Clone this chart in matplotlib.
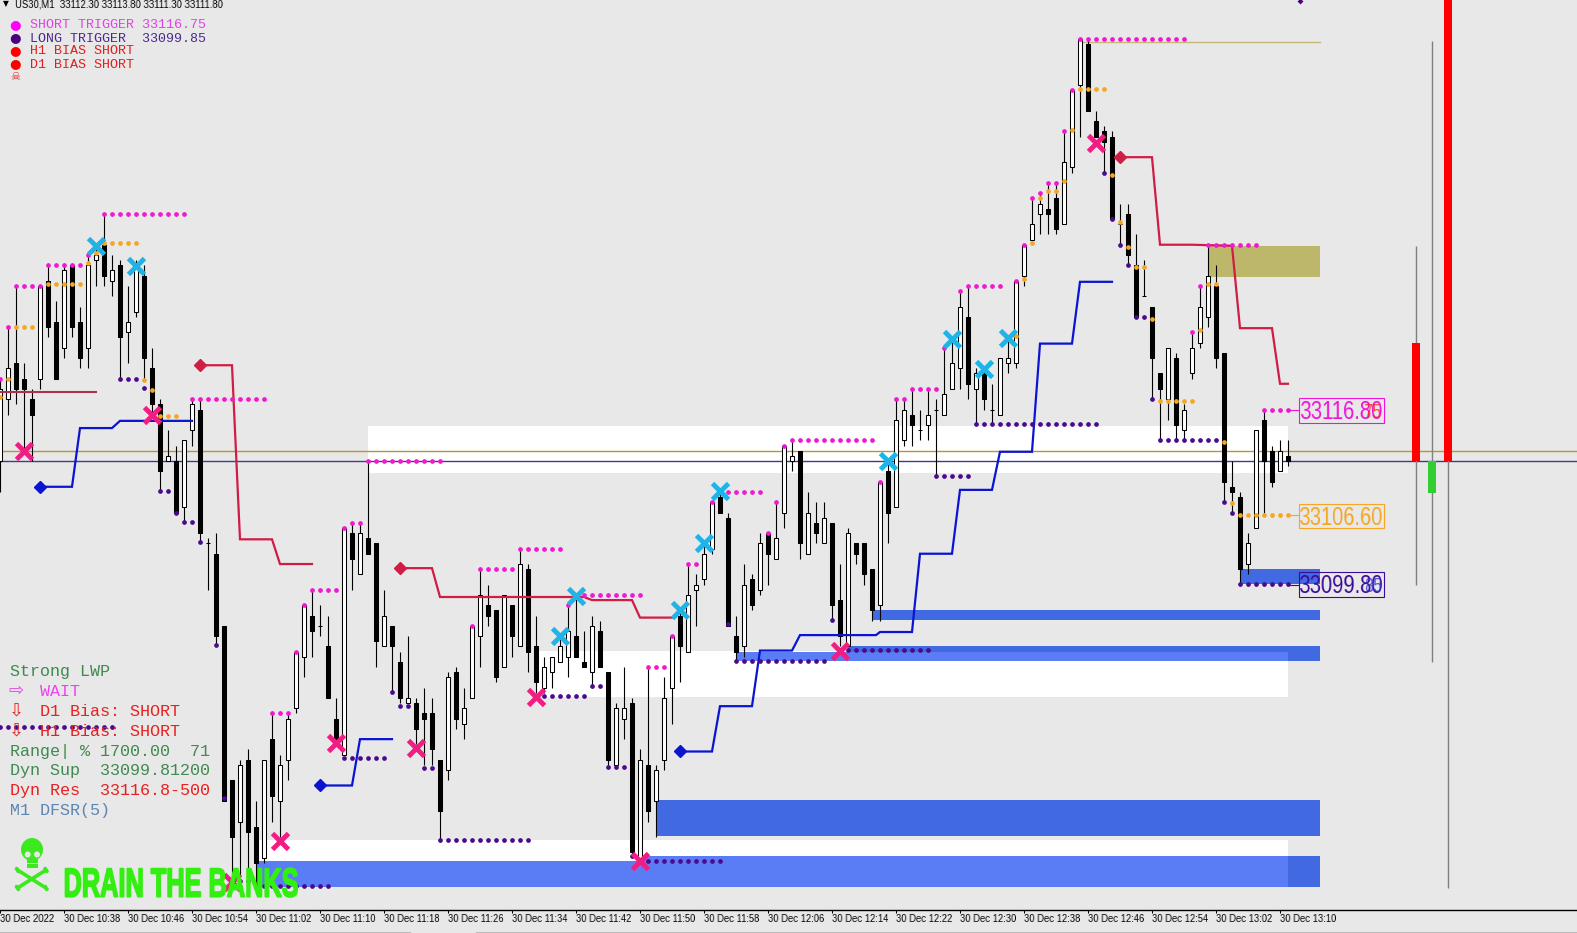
import numpy as np
from matplotlib import pyplot as plt
from matplotlib.colors import to_rgb
from matplotlib.lines import Line2D
from matplotlib.patches import Rectangle, Circle, Ellipse
from matplotlib.transforms import Affine2D
import matplotlib.patheffects as pe

BASE = 33000  # all prices below are written as offset from this

opens = [111.8,117.8,121.3,119.8,117.8,119.8,129.3,125.3,122.8,130.8,
         125.3,122.8,131.3,132.8,129.3,130.8,124.3,126.3,129.8,120.8,
         117.3,111.8,111.8,107.3,114.8,116.8,103.8,102.8,95.8,80.8,
         76.8,82.8,76.3,73.3,84.8,78.8,82.8,87.8,92.8,96.8,
         95.8,93.8,86.8,83.3,104.8,100.8,104.3,103.8,93.8,95.8,
         92.3,88.3,88.3,87.3,87.3,82.8,81.8,91.3,86.3,88.8,
         94.8,97.8,97.3,91.8,97.8,93.8,101.3,93.8,89.8,91.3,
         92.3,92.8,94.8,92.3,91.3,95.3,91.3,82.3,86.8,88.3,
         73.3,82.3,78.8,82.8,89.8,96.8,93.3,99.3,100.3,103.3,
         108.3,106.3,94.8,93.8,100.3,99.3,104.8,102.3,106.8,111.8,
         112.8,102.8,105.8,103.8,105.8,98.3,93.8,103.8,103.8,101.3,
         97.8,110.8,107.3,113.8,116.3,114.8,115.3,116.8,116.3,118.8,
         120.8,125.8,118.8,120.3,116.8,116.3,121.3,121.3,129.8,133.3,
         135.8,136.3,137.3,134.8,140.3,148.3,152.3,144.8,143.8,143.3,
         134.8,135.8,130.8,127.8,126.8,120.3,117.8,121.8,114.8,120.3,
         123.3,125.8,128.8,122.3,109.3,108.3,101.8,105.3,115.8,112.8,110.8,112.3]
highs = [119.8,124.8,128.8,121.3,118.8,128.8,130.8,127.3,130.8,130.8,
         126.8,131.8,132.8,135.8,131.8,131.3,128.8,131.3,130.8,122.8,
         117.8,114.8,113.3,113.8,117.8,117.8,104.3,104.8,95.8,80.8,
         82.8,83.8,78.8,82.8,87.3,83.3,87.3,93.3,97.8,99.3,
         97.8,96.8,88.8,105.3,105.8,105.8,111.8,103.8,99.3,95.8,
         93.3,94.8,88.8,89.8,88.8,82.8,91.3,91.8,89.8,95.8,
         101.3,99.8,97.3,98.8,97.8,103.3,101.8,96.8,92.8,92.8,
         94.8,97.8,98.8,95.3,96.8,96.3,91.3,88.3,91.8,88.8,
         83.8,91.8,82.3,90.8,94.8,97.3,101.8,100.8,103.8,107.8,
         108.8,106.8,96.8,101.8,100.8,104.8,104.8,107.8,113.3,113.8,
         112.8,108.8,107.8,107.8,105.8,101.8,105.3,103.8,103.8,101.3,
         109.8,111.8,117.8,117.8,118.8,116.8,118.8,117.8,122.8,123.8,
         128.3,128.8,120.8,120.8,119.3,121.8,123.8,129.3,132.8,137.3,
         137.8,138.8,138.8,143.8,147.8,152.8,152.8,145.8,144.3,143.8,
         136.8,136.8,133.8,131.3,126.8,120.3,122.8,122.3,117.3,124.3,
         128.8,132.8,130.8,122.3,111.8,108.8,104.8,114.8,116.8,113.3,113.8,113.8]
lows = [108.8,116.3,117.3,112.8,111.8,118.8,123.8,119.8,121.8,123.8,
        120.8,120.8,128.8,128.8,127.8,119.8,121.3,125.8,119.8,116.3,
        108.8,111.8,106.8,105.8,113.3,103.8,99.3,93.8,78.8,70.8,
        70.8,70.8,70.3,72.8,76.8,75.3,80.8,87.3,90.8,92.8,
        94.8,88.8,84.3,83.3,99.3,100.8,102.8,91.8,93.8,89.3,
        88.3,88.3,84.3,82.3,82.3,74.8,80.8,85.8,84.8,88.8,
        91.8,95.8,90.3,91.8,92.8,93.8,91.3,89.3,89.3,89.8,
        92.3,90.8,92.8,91.8,89.8,91.8,82.3,82.3,84.8,73.3,
        72.8,76.8,75.3,81.8,86.3,90.3,93.3,95.8,99.8,102.8,
        106.8,95.8,92.3,92.8,97.3,98.8,99.8,102.3,105.3,110.8,
        102.3,102.8,103.8,103.8,96.3,93.8,93.8,101.8,99.8,96.3,
        96.3,103.8,107.3,113.3,113.3,113.8,113.8,110.3,116.3,118.8,
        118.8,117.8,115.3,116.8,115.3,116.3,120.3,120.8,128.8,133.3,
        133.8,133.8,133.8,134.8,139.8,143.3,145.8,143.3,139.8,135.3,
        132.8,130.8,125.8,127.8,117.8,113.8,115.8,113.8,113.8,119.8,
        122.8,124.8,120.8,107.8,106.8,99.8,100.8,105.3,106.8,109.3,110.8,111.3]
closes = [118.8,120.8,118.8,118.8,116.3,128.8,124.8,119.8,130.3,124.8,
          121.8,130.8,131.8,129.8,130.3,123.8,125.3,130.8,121.8,117.3,
          110.8,112.3,106.8,113.8,117.3,104.8,103.8,94.8,78.8,75.3,
          82.3,75.8,72.8,82.8,79.3,82.3,86.8,93.3,97.8,95.3,
          95.8,88.8,84.3,105.3,102.3,104.8,102.8,94.3,96.8,93.8,
          88.8,88.8,85.8,86.8,83.8,77.8,90.8,86.8,87.8,95.8,
          98.8,96.8,90.8,98.8,94.8,101.8,93.3,90.3,91.8,92.8,
          93.8,95.3,92.8,91.8,95.8,91.8,82.8,87.8,87.8,73.8,
          82.8,77.8,81.8,88.8,94.8,93.8,98.8,99.8,102.8,107.8,
          106.8,95.8,93.3,99.8,97.8,103.8,102.8,104.3,113.3,112.3,
          103.8,106.8,104.8,106.3,97.8,94.8,104.8,102.8,100.8,97.3,
          109.8,106.8,115.8,116.8,115.3,114.8,116.3,116.8,118.3,121.3,
          126.8,119.3,120.3,117.8,116.8,121.8,121.8,129.3,132.8,134.8,
          136.8,135.8,134.3,140.8,147.8,152.8,145.8,143.3,142.8,135.3,
          134.8,131.8,125.8,127.8,121.8,118.8,122.8,115.3,116.8,122.8,
          126.8,129.8,121.8,109.8,108.8,101.3,103.8,114.8,111.8,109.8,112.8,111.8]

# dots: (first bar, last bar, price)
magenta_runs = [(0,0,119.8),(1,1,124.8),(2,5,128.8),(6,10,130.8),(11,11,131.8),(13,23,135.8),
                (24,33,117.8),(34,36,87.3),(37,37,93.3),(38,38,97.8),(39,42,99.3),(43,43,105.3),
                (44,45,105.8),(46,55,111.8),(59,59,95.8),(60,64,101.3),(65,70,103.3),(71,71,97.8),
                (72,80,98.8),(81,83,91.8),(84,84,94.8),(86,87,101.8),(89,89,107.8),(90,95,108.8),
                (96,96,104.8),(97,97,107.8),(98,98,113.3),(99,109,113.8),(110,110,109.8),
                (112,113,117.8),(114,117,118.8),(118,118,122.8),(120,120,128.3),(121,125,128.8),
                (127,127,129.3),(128,128,132.8),(129,129,137.3),(130,130,137.8),(131,132,138.8),
                (133,133,143.8),(134,134,147.8),(135,148,152.8),(149,149,124.3),(150,150,128.8),
                (151,157,132.8),(158,161,116.8)]
orange_runs = [(0,0,118.0),(1,1,119.8),(2,4,124.8),(6,10,129.0),(11,11,131.0),(12,12,132.0),
               (13,17,133.0),(18,18,119.7),(19,19,118.7),(20,22,116.2),(127,127,123.9),
               (128,128,129.5),(129,129,133.0),(130,130,137.3),(131,132,138.0),(133,133,139.0),
               (134,134,143.9),(135,138,147.9),(139,139,139.6),(140,140,135.0),(141,141,132.6),
               (142,143,130.6),(144,144,125.6),(145,149,117.6),(150,150,124.5),(151,152,129.0),
               (153,153,113.6),(154,154,107.7),(155,161,106.6)]
indigo_runs = [(0,14,86.0),(15,17,119.8),(18,18,118.9),(20,21,108.9),(22,22,106.8),(23,24,105.9),
               (25,25,103.9),(27,27,93.9),(28,28,79.1),(30,31,71.0),(32,41,70.5),(43,48,83.0),
               (49,49,89.4),(50,51,88.0),(53,54,82.0),(55,66,75.0),(68,73,89.0),(74,75,90.0),
               (76,78,82.1),(79,79,73.5),(81,90,73.0),(91,91,96.0),(92,103,92.4),(104,104,96.4),
               (106,116,93.5),(117,121,110.3),(122,137,115.4),(138,138,139.8),(139,139,135.3),
               (140,140,132.8),(141,141,130.8),(142,143,125.8),(144,144,117.8),(145,152,113.8),
               (153,153,107.8),(154,154,106.8),(155,161,99.9)]

pink_bars = [3,19,42,35,29,52,67,80,105,137]
pink_prices = [112.8,116.3,84.4,74.9,70.9,83.9,88.9,73.0,93.4,142.7]
cyan_bars = [12,17,70,72,85,88,90,111,119,123,126]
cyan_prices = [132.7,130.7,94.8,98.7,97.3,103.8,108.9,111.8,123.6,120.7,123.7]

# step lines, first point carries the diamond
red_lines = [([25,29,30,34,35,39],[121.1,121.1,104.2,104.2,101.8,101.8]),
             ([50,54,55,73,74,79,80,84],[101.4,101.4,98.6,98.6,98.3,98.3,96.6,96.6]),
             ([140,144,145,149,154,155,159,160,161],[141.3,141.3,132.8,132.8,132.7,124.7,124.7,119.3,119.3])]
blue_lines = [([5,9,10,14,15,24],[109.3,109.3,115.0,115.0,115.7,115.7]),
              ([40,44,45,49],[80.3,80.3,84.8,84.8]),
              ([85,89,90,94,95,99,100,109.5,110,114,115,119,120,124,125,129,130,134,135,139],
               [83.6,83.6,88.0,88.0,93.4,93.4,94.9,94.9,95.2,95.2,102.8,102.8,109.0,109.0,
                112.7,112.7,123.2,123.2,129.2,129.2])]

# zones: first bar, last bar, top, bottom, colour name
DARK = '#4169e1'
LIGHT = '#5a7df5'
KHAKI = '#bdb76b'
zones = [(46,161,115.2,110.6,'white'),(67,161,93.4,88.9,'white'),(32,161,75.0,70.4,'white'),
         (32,161,73.0,70.4,LIGHT),(80,161,73.5,70.4,LIGHT),(161,165,73.5,70.4,DARK),
         (82,165,78.9,75.4,DARK),(109,165,97.3,96.4,DARK),(106,165,93.8,92.4,DARK),
         (92,161,93.3,92.4,LIGHT),(155,165,101.3,99.9,DARK),(151,165,132.7,129.7,KHAKI)]

bid_price = 111.8
ask_price = 112.8
top_level = 152.5
old_level = 118.5

# higher timeframe candles on the right: bar, open, high, low, close
htf_bars = [177,179,181]
htf_open = [123.3,111.8,157.5]
htf_high = [132.7,152.6,157.5]
htf_low = [99.8,92.3,70.3]
htf_close = [111.8,108.7,111.8]
htf_colour = ['#ff0000','#32cd32','#ff0000']

# price tags: text, overlay, price, colour, overlay colour, box top, box bottom, text level
tags = [('33116.80','75',116.8,'#f012d8','#ff2020',117.9,115.5,116.55),
        ('33106.60','',106.6,'#f5a623','#f5a623',107.6,105.3,106.25),
        ('33099.80','85',99.8,'#3a0a9a','#3030d0',101.0,98.6,99.65)]

tick_labels = ['30 Dec 2022','30 Dec 10:38','30 Dec 10:46','30 Dec 10:54','30 Dec 11:02','30 Dec 11:10',
               '30 Dec 11:18','30 Dec 11:26','30 Dec 11:34','30 Dec 11:42','30 Dec 11:50','30 Dec 11:58',
               '30 Dec 12:06','30 Dec 12:14','30 Dec 12:22','30 Dec 12:30','30 Dec 12:38','30 Dec 12:46',
               '30 Dec 12:54','30 Dec 13:02','30 Dec 13:10']

legend_lines = [('SHORT TRIGGER 33116.75','#e040e8','#ff00ff',25.5),
                ('LONG TRIGGER  33099.85','#4b2a8c','#4b0082',38.5),
                ('H1 BIAS SHORT','#e02020','#ff0000',51.5),
                ('D1 BIAS SHORT','#e02020','#ff0000',64.5)]
info_lines = [('Strong LWP','#3f8a4f',671.5),('   WAIT','#f040f0',691.5),
              ('   D1 Bias: SHORT','#e82020',711.5),('   H1 Bias: SHORT','#e82020',731.5),
              ('Range| % 1700.00  71','#3f8a4f',751.5),('Dyn Sup  33099.81200','#3f8a4f',770.5),
              ('Dyn Res  33116.8-500','#e82020',790.5),('M1 DFSR(5)','#5b85b5',810.5)]
info_arrows = [('\u21e8','#f040f0',691),('\u21e9','#e82020',711),('\u21e9','#e82020',731)]

W, H = 1577, 933
BG = '#e8e8e8'
MONO = ['Liberation Mono', 'DejaVu Sans Mono']
SANS = ['Liberation Sans', 'DejaVu Sans']
LIME = '#3ce81e'

fig = plt.figure(figsize=(W / 100, H / 100), dpi=100, facecolor=BG)
ax = fig.add_axes([0, (H - 909.5) / H, 1, 909.5 / H], facecolor=BG)
ax.set_xlim(0, W / 8)
ax.set_ylim(BASE + 68.26, BASE + 156.56)


def squeeze(fx, fy, colour, anchor='left'):
    # no condensed font here: resample the drawn text so it gets the narrow look
    rgb = to_rgb(colour)

    def run(img, dpi):
        h, w = img.shape[:2]
        w2, h2 = max(1, round(w * fx)), max(1, round(h * fy))
        ys = np.linspace(0, h - 1, h2)
        xs = np.linspace(0, w - 1, w2)
        y0 = ys.astype(int)
        y1 = np.minimum(y0 + 1, h - 1)
        x0 = xs.astype(int)
        x1 = np.minimum(x0 + 1, w - 1)
        a = img[..., 3]
        a = a[y0] * (1 - ys + y0)[:, None] + a[y1] * (ys - y0)[:, None]
        a = a[:, x0] * (1 - xs + x0) + a[:, x1] * (xs - x0)
        out = np.zeros((h2, w2, 4))
        out[..., 0], out[..., 1], out[..., 2] = rgb
        out[..., 3] = a
        ox = {'left': 0, 'center': (w - w2) // 2, 'right': w - w2}[anchor]
        return out, ox, (h - h2) // 2
    return run


def put(x, y, s, **kw):
    # text placed in picture pixels
    return fig.text(x / W, 1 - y / H, s, va='center', ha=kw.pop('ha', 'left'), zorder=20, **kw)


for first, last, top, bottom, colour in zones:
    ax.add_patch(Rectangle((first, BASE + bottom), last - first, top - bottom, fc=colour, ec='none', zorder=1))

ax.axhline(BASE + ask_price, color='#b8962e', lw=1, zorder=2)
ax.axhline(BASE + bid_price, color='#3c3c8c', lw=1, zorder=2)
ax.plot([135, 165], [BASE + top_level] * 2, color='#c4b87a', lw=1, zorder=2)

# right hand candles
for bar, o, hi, lo, c, colour in zip(htf_bars, htf_open, htf_high, htf_low, htf_close, htf_colour):
    ax.vlines(bar, BASE + lo, BASE + hi, color='#808080', lw=1, zorder=2)
    ax.bar(bar, abs(o - c), bottom=BASE + min(o, c), width=1, color=colour, zorder=3)

# candles
o = np.array(opens) + BASE
hi = np.array(highs) + BASE
lo = np.array(lows) + BASE
c = np.array(closes) + BASE
bars = np.arange(len(o))
up = c > o
ax.vlines(bars, lo, hi, color='black', lw=0.8, zorder=4)
ax.bar(bars, np.abs(c - o), bottom=np.minimum(o, c), width=0.56,
       color=np.where(up, 'white', 'black'), edgecolor='black', linewidth=0.75, zorder=5)

ax.plot(np.array([0, 12]), [BASE + old_level] * 2, color='#b03050', lw=1.5, zorder=6)

for xs, ys in red_lines:
    ax.plot(xs, np.array(ys) + BASE, color='#cf1d45', lw=1.6, zorder=6, solid_joinstyle='miter')
    ax.plot(xs[0], ys[0] + BASE, 'D', color='#cf1d45', ms=6, zorder=6)
for xs, ys in blue_lines:
    ax.plot(xs, np.array(ys) + BASE, color='#0a14d2', lw=1.6, zorder=6, solid_joinstyle='miter')
    ax.plot(xs[0], ys[0] + BASE, 'D', color='#0a14d2', ms=6, zorder=6)


def dots(runs, colour):
    for first, last, price in runs:
        xs = np.arange(first, last + 1)
        ax.plot(xs, np.full(len(xs), BASE + price), 'o', color=colour, ms=3.4, mew=0, zorder=7)


dots(indigo_runs, '#4b0a8c')
dots(orange_runs, '#f5a623')
dots(magenta_runs, '#f018d0')
ax.plot([162.5], [BASE + 156.5], 'D', color='#4b0082', ms=3, mew=0, zorder=7)

ax.plot(pink_bars, np.array(pink_prices) + BASE, 'x', color='#f01e82', ms=12, mew=3.5, zorder=8)
ax.plot(cyan_bars, np.array(cyan_prices) + BASE, 'x', color='#1fb4e8', ms=12, mew=3.5, zorder=8)

# price tags
for label, overlay, price, colour, overlay_colour, top, bottom, level in tags:
    ax.plot([161, 162.4], [BASE + price] * 2, color=colour, lw=0.8, zorder=9)
    ax.add_patch(Rectangle((162.4, BASE + bottom), 10.6, top - bottom, fc='none', ec=colour, lw=0.8, zorder=9))
    t = ax.text(167.7, BASE + level, label, color=colour, family=SANS, fontsize=19,
                ha='center', va='center', zorder=10)
    t.set_agg_filter(squeeze(0.77, 1, colour, 'center'))
    if overlay:
        t = ax.text(172.8, BASE + level, overlay, color=overlay_colour, family=SANS,
                    fontsize=15, ha='right', va='center', zorder=10, alpha=0.8)
        t.set_agg_filter(squeeze(0.77, 1, overlay_colour, 'right'))

# time axis
ax.set_xticks(bars[::8][:len(tick_labels)])
ax.set_xticklabels(tick_labels, family=SANS, fontsize=8, color='black', ha='left')
ax.tick_params(axis='x', length=2.5, width=0.75, color='black', pad=0.5)
for t in ax.get_xticklabels():
    t.set_agg_filter(squeeze(0.85, 1, 'black', 'left'))
ax.set_yticks([])
for side in ['top', 'left', 'right']:
    ax.spines[side].set_visible(False)
ax.spines['bottom'].set_linewidth(1)
fig.add_artist(Line2D([0, 410 / W], [0.5 / H, 0.5 / H], color='black', lw=1))
fig.add_artist(Line2D([476 / W, 1], [0.5 / H, 0.5 / H], color='black', lw=1))

# overlays
fig.text(6 / W, 1 - 4 / H, '\u25bc', fontsize=5.5, va='center', ha='center', color='black')
t = put(15, 4.5, 'US30,M1  33112.30 33113.80 33111.30 33111.80', family=SANS, fontsize=8, color='black')
t.set_agg_filter(squeeze(0.855, 1, 'black', 'left'))
for s, colour, dot_colour, y in legend_lines:
    put(30, y, s, family=MONO, fontsize=9.6, color=colour)
    put(15, y - 0.5, '\u25cf', family='DejaVu Sans', fontsize=9.5, color=dot_colour, ha='center')
put(15, 77, '\u2620', family='DejaVu Sans', fontsize=8, color='#e02020', ha='center')
for s, colour, y in info_lines:
    put(10.5, y, s, family=MONO, fontsize=12.05, color=colour)
for s, colour, y in info_arrows:
    put(16, y, s, family='DejaVu Sans', fontsize=13, color=colour, ha='center')

# skull, drawn in picture pixels
px = Affine2D().scale(1 / W, -1 / H).translate(0, 1) + fig.transFigure
for (x0, y0), (x1, y1) in [((17.5, 870), (46, 888)), ((46, 870), (17.5, 888))]:
    fig.add_artist(Line2D([x0, x1], [y0, y1], color=LIME, lw=2.6, transform=px, solid_capstyle='round'))
    for bx, by in [(x0, y0), (x1, y1)]:
        fig.add_artist(Circle((bx - 0.8, by - 1.2), 2, fc=LIME, ec='none', transform=px))
        fig.add_artist(Circle((bx + 0.8, by + 1.2), 2, fc=LIME, ec='none', transform=px))
fig.add_artist(Ellipse((32, 849.5), 22, 23, fc=LIME, ec='none', transform=px))
fig.add_artist(Rectangle((26.5, 856), 11, 12, fc=LIME, ec='none', transform=px))
for ex in [27.7, 37]:
    fig.add_artist(Circle((ex, 854.5), 3, fc=BG, ec='none', transform=px))
fig.add_artist(Line2D([27, 37], [862.5, 862.5], color='#c8f5c0', lw=0.7, transform=px))

t = put(63, 885.5, 'DRAIN THE BANKS', family=SANS, weight='bold', fontsize=29, color=LIME,
        path_effects=[pe.withStroke(linewidth=1.5, foreground=LIME)])
t.set_agg_filter(squeeze(0.63, 1, '#33ee11', 'left'))

fig.savefig('out.png', dpi=100, facecolor=BG)
